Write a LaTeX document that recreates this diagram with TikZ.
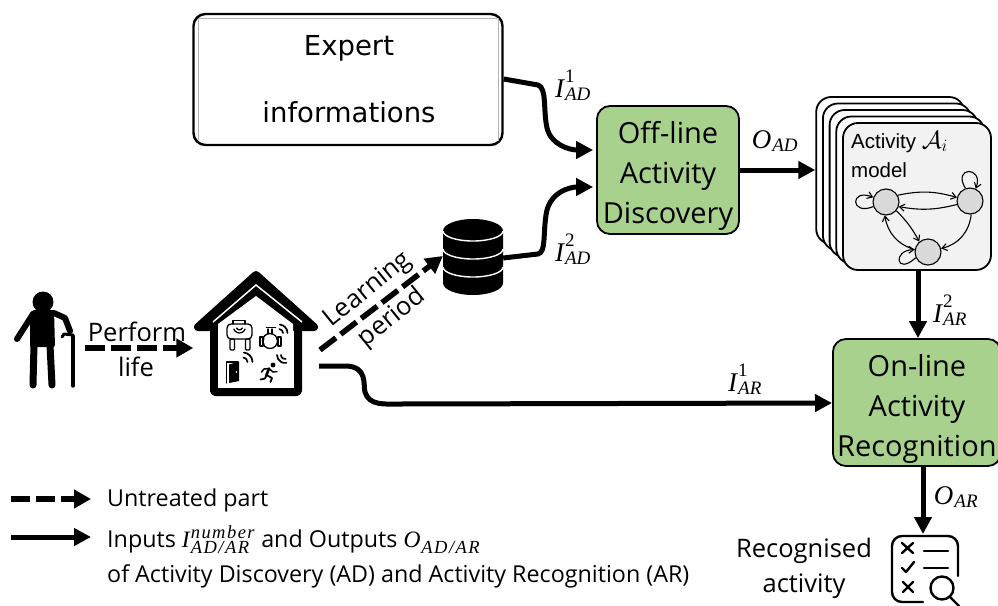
\documentclass[tikz,border=0pt]{standalone}
\usepackage{fontspec}
\setmainfont{Open Sans}
\newfontfamily\djv{DejaVu Sans}
\newfontfamily\lsans{Liberation Sans}
\newfontfamily\msrm{Liberation Serif}
\usetikzlibrary{arrows.meta,calc,shapes.geometric}
\newcommand{\fsz}[1]{\fontsize{#1}{#1}\selectfont}
% symbol: main letter, subscript, superscript
\newcommand{\msym}[3]{$\hbox{\msrm\itshape\fsz{27}#1\kern1pt}_{\hbox{\msrm\itshape\fsz{19}#2}}^{\hbox{\msrm\fsz{19}#3}}$}
\newcommand{\lsym}[3]{$\hbox{\msrm\itshape\fsz{23.5}#1\kern1pt}_{\hbox{\msrm\itshape\fsz{18.5}\addfontfeature{LetterSpace=8}#2}}^{\hbox{\msrm\itshape\fsz{18.5}\addfontfeature{LetterSpace=8}#3}}$}
\newcommand{\wifiarc}[5]{\draw ($(#1,#2)+({#3*cos(#4)},{-#3*sin(#4)})$) arc[start angle=#4,end angle=#5,radius=#3 pt];}
\newcommand{\topstrut}{\rule{0pt}{34pt}}
\tikzset{
  x=1pt,y=-1pt,
  flow/.style={line width=5pt,-{Triangle[length=17pt,width=17pt]}},
  dashflow/.style={line width=5.5pt,dash pattern=on 20pt off 6pt,-{Triangle[length=17pt,width=18pt]}},
  greenbox/.style={draw=black,line width=1.8pt,fill=boxgreen,rounded corners=13pt,align=center,inner sep=0pt,font=\fontsize{29}{40}\selectfont},
  card/.style={draw=black,line width=1.8pt,fill=white,rounded corners=15pt},
  state/.style={circle,draw=black,line width=1.1pt,fill=stategray,minimum size=26pt,inner sep=0pt},
  trans/.style={line width=1.1pt,-{Straight Barb[length=5pt,width=7pt]}},
  lab/.style={inner sep=0pt,font=\fsz{25.5}},
  leg/.style={inner sep=0pt,anchor=west,font=\fsz{23.3}},
  mlab/.style={inner sep=0pt},
  icon/.style={line width=1.3pt,line cap=round,line join=round},
}
\definecolor{boxgreen}{HTML}{A9D18E}
\definecolor{stategray}{HTML}{D9D9D9}
\definecolor{cardgray}{HTML}{F2F2F2}
\begin{document}
\begin{tikzpicture}
\useasboundingbox (0,0) rectangle (998,605);
% expert box
\node[draw=black,line width=2.4pt,rounded corners=12pt,minimum width=309pt,minimum height=131pt,inner sep=0pt] (expert) at (348,79.5) {};
\draw[gray!60,line width=.8pt] (198,18) -- (498,18) (198,18) -- (198,141) (498,18) -- (498,141);
\node[lab,font=\djv\fsz{27.5}] (t1) at (349,48.5) {Expert};
\node[lab,font=\djv\fsz{27.5}] (t2) at (349,112) {informations};
% boxes
\node[greenbox,minimum width=142pt,minimum height=128pt] (offline) at (668,170) {\topstrut Off-line\\Activity\\Discovery};
\node[greenbox,minimum width=168pt,minimum height=127pt,anchor=west,text width=168pt] (online) at (832,402.5) {\topstrut On-line\\Activity\\Recognition};
% stack of cards
\foreach \i in {4,3,2,1}{
  \node[card,minimum width=148pt,minimum height=147pt,inner sep=0pt] (c\i) at ({917-6.7*\i},{196.5-6.5*\i}) {};
}
\node[card,fill=cardgray,minimum width=148pt,minimum height=147pt,inner sep=0pt] (front) at (917,196.5) {};
\node[inner sep=0pt,anchor=base west,font=\lsans\fsz{20.5}] (acta) at (851,148) {Activity {\fsz{24}$\mathcal{A}_i$}};
\node[inner sep=0pt,anchor=base west,font=\lsans\fsz{20.5}] (actm) at (851,177) {model};
\node[state] (s1) at (886,202) {};
\node[state] (s2) at (970,201) {};
\node[state] (s3) at (928,252) {};
\draw[trans] (s1.30) to[bend left=14] (s2.165);
\draw[trans] (s2.195) to[bend left=12] (s1.340);
\draw[trans] (s2.275) to[bend left=35] (s3.15);
\draw[trans] (s1.320) to[bend left=8] (s3.130);
\draw[trans] (s3.170) to[bend left=32] (s1.265);
\draw[trans] (s1.200) .. controls (850,216) and (850,188) .. (s1.160);
\draw[trans] (s2.110) .. controls (952,166) and (984,166) .. (s2.65);
\draw[trans] (s3.205) .. controls (896,276) and (892,250) .. (s3.170);
% database
\fill[black] (443,231) arc[start angle=180,end angle=0,x radius=30pt,y radius=12pt] -- (503,283) arc[start angle=0,end angle=-180,x radius=30pt,y radius=12pt] -- cycle;
\foreach \yy in {231,249,267}{
  \draw[white,line width=1.4pt] (443,\yy) arc[start angle=180,end angle=360,x radius=30pt,y radius=10pt];
}
\node[inner sep=0pt,minimum width=60pt,minimum height=77pt] (db) at (473,257.5) {};
% person
\coordinate (manr) at (85,348);
\begin{scope}[line cap=round,line join=round]
\fill (43,302) circle[radius=10.5pt];
\fill[rounded corners=2pt] (32,310) -- (54,310) -- (55,347) -- (30,347) -- (30,314) -- cycle;
\draw[line width=6pt] (33,314) -- (17,339);
\draw[line width=7pt] (34,345) -- (33,385);
\draw[line width=7pt] (50,345) -- (52,385);
\draw[line width=6pt] (54,313) -- (65,318) -- (70,331);
\draw[line width=3.4pt] (73,336) -- (73,386);
\draw[line width=3pt] (62,337) -- (64,334) -- (73,335);
\end{scope}
% house
\node[inner sep=0pt,minimum width=125pt,minimum height=122pt] (house) at (256,331) {};
\coordinate (hr) at (319,366);
\coordinate (hl) at (320,350);
\fill[black,draw=black,line width=8pt,line join=round] (198,327) -- (256,275) -- (314,327) -- cycle;
\draw[black,line width=8pt,line join=round,rounded corners=1pt] (214,325) rectangle (298,392);
\fill[white] (218,387) -- (293,387) -- (293,324) -- (256,296) -- (218,324) -- cycle;
\draw[white,line width=1.5pt] (213,322) -- (256,285) -- (302,322);
% icons
\begin{scope}[icon]
% sensor
\draw[rounded corners=4pt] (227,324) rectangle (252,339);
\draw (233,324) -- (233,320.5) -- (245,320.5) -- (245,324);
\draw[rounded corners=1pt] (230,339) rectangle (234.5,350);
\draw[rounded corners=1pt] (245.5,339) rectangle (250,350);
\wifiarc{239.5}{327}{3}{200}{340}
\wifiarc{239.5}{327}{6}{200}{340}
% valve
\draw (270,341) circle[radius=7.5pt];
\draw (260,337) rectangle (263,346) (278,337) rectangle (281,346);
\draw (263,339) -- (264,339) (263,344) -- (264,344) (277,339) -- (278,339) (277,344) -- (278,344);
\draw (268,334) -- (268,329) (272,334) -- (272,329);
\draw[line width=1.8pt] (266.5,327.5) -- (275.5,327.5);
\begin{scope}[line width=1.7pt]
\wifiarc{279}{333}{4}{0}{85}
\wifiarc{279}{333}{8.5}{0}{85}
% door wifi
\wifiarc{243}{362}{4.5}{0}{85}
\wifiarc{243}{362}{9.5}{0}{85}
% runner wifi
\wifiarc{285}{355}{4}{180}{280}
\wifiarc{285}{355}{8}{180}{280}
\end{scope}
% door
\fill (229,364.5) -- (239,361.5) -- (239,381) -- (229,383) -- cycle;
\draw (226.5,383) -- (226.5,362) -- (238,362);
\fill[white] (236.5,372) circle[radius=.8pt];
% runner
\fill (273,365) circle[radius=2.4pt];
\draw[line width=2.6pt] (269,368.5) -- (266.5,375);
\draw[line width=1.8pt] (266.5,375) -- (272,378) -- (270.5,382);
\draw[line width=1.8pt] (266.5,375) -- (265,378.5) -- (260.5,379.5);
\draw[line width=1.5pt] (269,368.5) -- (273,372) -- (277,371.5);
\draw[line width=1.5pt] (269,368.5) -- (264,369) -- (261.5,372);
\end{scope}
% result icon
\coordinate (ric) at (923,534);
\begin{scope}[line cap=round,line join=round,line width=2.4pt]
\draw[rounded corners=10pt] (923,602) -- (892,602) -- (892,536) -- (958,536) -- (958,576);
\draw (902,543) -- (913,553) (913,543) -- (902,553);
\draw (924,551) -- (948,551) (924,568) -- (948,568);
\draw (902,568) -- (906,572) -- (914,562);
\draw (903,582) -- (913,592) (913,582) -- (903,592);
\draw (942,588) circle[radius=11.5pt];
\draw (950,597) -- (959,606);
\end{scope}
% connectors
\draw[flow,line join=round] (expert.east |- 0,79) -- (538,85) .. controls (547,88) and (543,110) .. (547,128) .. controls (551,145) and (570,150) .. ($(offline.west)+(-3,-20)$);
\draw[flow,line join=round] (db.east |- 0,258) -- (538,254) .. controls (546,252) and (543,235) .. (546,215) .. controls (549,192) and (570,187) .. ($(offline.west)+(-3,17)$);
\draw[flow] (offline.east |- 0,170) -- (c4.west |- 0,170);
\draw[flow] (front.south -| 918,0) -- (online.north -| 918,0);
\draw[flow] (online.south -| 923,0) -- (ric);
\draw[flow] (hr) -- (345,366) .. controls (368,366) and (363,385) .. (365,392) .. controls (369,406) and (385,404) .. (400,404) -- (online.west |- 0,403);
\draw[dashflow] (manr) -- (house.west |- 0,348);
\draw[dashflow] (hl) -- (db.west |- 0,256);
% labels
\node[lab] (perf) at (137,332) {Perform};
\node[lab] (life) at (136,367) {life};
\node[lab,rotate=39] (learn) at (368,290) {Learning};
\node[lab,rotate=39] (peri) at (392,318) {period};
\node[mlab] (l1) at (573,85) {\msym{I}{AD}{1}};
\node[mlab] (l2) at (573,249) {\msym{I}{AD}{2}};
\node[mlab] (l3) at (775,141) {\msym{O}{AD}{}};
\node[mlab] (l4) at (950,310) {\msym{I}{AR}{2}};
\node[mlab] (l5) at (745,379) {\msym{I}{AR}{1}};
\node[mlab] (l6) at (956,497) {\msym{O}{AR}{}};
\node[lab] (rec) at (804,551) {Recognised};
\node[lab] (act) at (804,586) {activity};
% legend
\coordinate (la) at (11,499);
\coordinate (lb) at (91,499);
\coordinate (lc) at (11,537);
\coordinate (ld) at (91,537);
\draw[line width=5.5pt,dash pattern=on 19pt off 6pt,-{Triangle[length=17pt,width=18pt]}] (la) -- (lb);
\draw[flow] (lc) -- (ld);
\node[leg] (g1) at (107,500) {Untreated part};
\node[leg] (g2) at (107,540) {Inputs \lsym{I}{AD/AR}{number} and Outputs \lsym{O}{AD/AR}{}};
\node[leg] (g3) at (107,576) {of Activity Discovery (AD) and Activity Recognition (AR)};
\end{tikzpicture}
\end{document}
